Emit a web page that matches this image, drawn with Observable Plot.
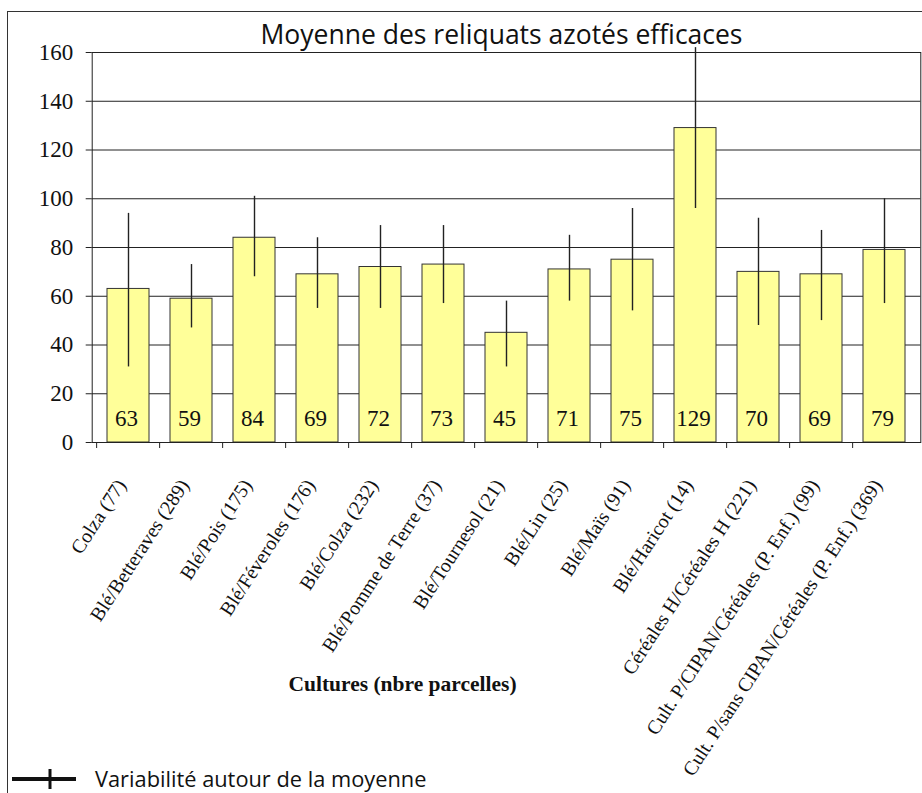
<!DOCTYPE html>
<html>
<head>
<meta charset="utf-8">
<script src="https://cdn.jsdelivr.net/npm/d3@7"></script>
<script src="https://cdn.jsdelivr.net/npm/@observablehq/plot@0.6"></script>
<style>
  html, body { margin: 0; padding: 0; background: #fff; }
  #wrap { position: relative; width: 922px; height: 793px; overflow: hidden; }
  #outer { position: absolute; left: 7px; top: 11px; width: 930px; height: 800px;
           border-left: 1.5px solid #333; border-top: 1.5px solid #333; box-sizing: border-box; }
  #chart { position: absolute; left: 0; top: 0; }
  #legend { position: absolute; left: 12px; top: 764px; display: flex; align-items: center;
            font-family: "Open Sans", sans-serif; font-size: 21.8px; color: #111; }
  #legend svg { margin-right: 19px; }
</style>
</head>
<body>
<div id="wrap">
  <div id="outer"></div>
  <div id="chart"></div>
  <div id="legend"></div>
</div>
<script>
const cultures = [
  "Colza (77)", "Blé/Betteraves (289)", "Blé/Pois (175)", "Blé/Féveroles (176)",
  "Blé/Colza (232)", "Blé/Pomme de Terre (37)", "Blé/Tournesol (21)", "Blé/Lin (25)",
  "Blé/Maïs (91)", "Blé/Haricot (14)", "Céréales H/Céréales H (221)",
  "Cult. P/CIPAN/Céréales (P. Enf.) (99)", "Cult. P/sans CIPAN/Céréales (P. Enf.) (369)"
];
const moyennes = [63, 59, 84, 69, 72, 73, 45, 71, 75, 129, 70, 69, 79];
const variabiliteBas = [31, 47, 68, 55, 55, 57, 31, 58, 54, 96, 48, 50, 57];
const variabiliteHaut = [94, 73, 101, 84, 89, 89, 58, 85, 96, 162, 92, 87, 100];
const yTicks = [0, 20, 40, 60, 80, 100, 120, 140, 160];
const titre = "Moyenne des reliquats azotés efficaces";
const titreAxeX = "Cultures (nbre parcelles)";
const legende = "Variabilité autour de la moyenne";

const data = cultures.map((c, i) => ({
  culture: c, moyenne: moyennes[i], bas: variabiliteBas[i], haut: variabiliteHaut[i]
}));

const W = 922, H = 760, mL = 91.7, mR = 1.7, mT = 52, mB = H - 442;
const halfStep = (W - mL - mR) / cultures.length / 2;
const serif = "Liberation Serif";

const chart = Plot.plot({
  width: W, height: H,
  marginLeft: mL, marginRight: mR, marginTop: mT, marginBottom: mB,
  style: { fontFamily: serif, color: "#111", background: "transparent", overflow: "visible" },
  x: { domain: cultures, paddingInner: 0.34, paddingOuter: 0.17, label: null },
  y: { domain: [0, 160], label: null },
  marks: [
    Plot.gridY(yTicks, { stroke: "#222", strokeOpacity: 1, strokeWidth: 1 }),
    Plot.barY(data, { x: "culture", y: "moyenne", fill: "#FFFF99", stroke: "#333", strokeWidth: 1 }),
    Plot.ruleX(data, { x: "culture", y1: "bas", y2: "haut", stroke: "#222", strokeWidth: 1.4 }),
    Plot.text(data, { x: "culture", y: 0, text: d => String(d.moyenne), lineAnchor: "bottom", dy: -17, dx: -2,
                      fontSize: 23, fontFamily: serif, fontVariant: "normal", fill: "#111" }),
    Plot.frame({ stroke: "#222", strokeWidth: 1 }),
    Plot.ruleX(cultures, { x: d => d, y1: 0, y2: 0, insetBottom: -6, dx: -halfStep, stroke: "#222", strokeWidth: 1 }),
    Plot.axisY(yTicks, { tickSize: 6, tickPadding: 13, fontSize: 23, fontFamily: serif, fontVariant: "normal", stroke: "#222", fill: "#111" }),
    Plot.axisX({ tickSize: 0, tickPadding: 39, tickRotate: -57, dx: -7, fontSize: 19.8, fontFamily: serif, fontVariant: "normal", fill: "#111" }),
    Plot.text([titre], { frameAnchor: "top", lineAnchor: "bottom", dy: -9, dx: -5,
                         fontSize: 26.5, fontFamily: "Open Sans", fill: "#111" }),
    Plot.text([titreAxeX], { frameAnchor: "bottom", lineAnchor: "bottom", dy: 248, dx: -104,
                             fontSize: 21.5, fontWeight: "bold", fontFamily: serif, fill: "#111" })
  ]
});
document.getElementById("chart").appendChild(chart);

const leg = document.getElementById("legend");
const ns = "http://www.w3.org/2000/svg";
const sym = document.createElementNS(ns, "svg");
sym.setAttribute("width", 64); sym.setAttribute("height", 24);
const h = document.createElementNS(ns, "line");
h.setAttribute("x1", 0); h.setAttribute("x2", 64); h.setAttribute("y1", 12); h.setAttribute("y2", 12);
h.setAttribute("stroke", "#111"); h.setAttribute("stroke-width", 4);
const v = document.createElementNS(ns, "line");
v.setAttribute("x1", 38); v.setAttribute("x2", 38); v.setAttribute("y1", 2); v.setAttribute("y2", 22);
v.setAttribute("stroke", "#111"); v.setAttribute("stroke-width", 3);
sym.appendChild(h); sym.appendChild(v);
leg.appendChild(sym);
const span = document.createElement("span");
span.textContent = legende;
leg.appendChild(span);
</script>
</body>
</html>
